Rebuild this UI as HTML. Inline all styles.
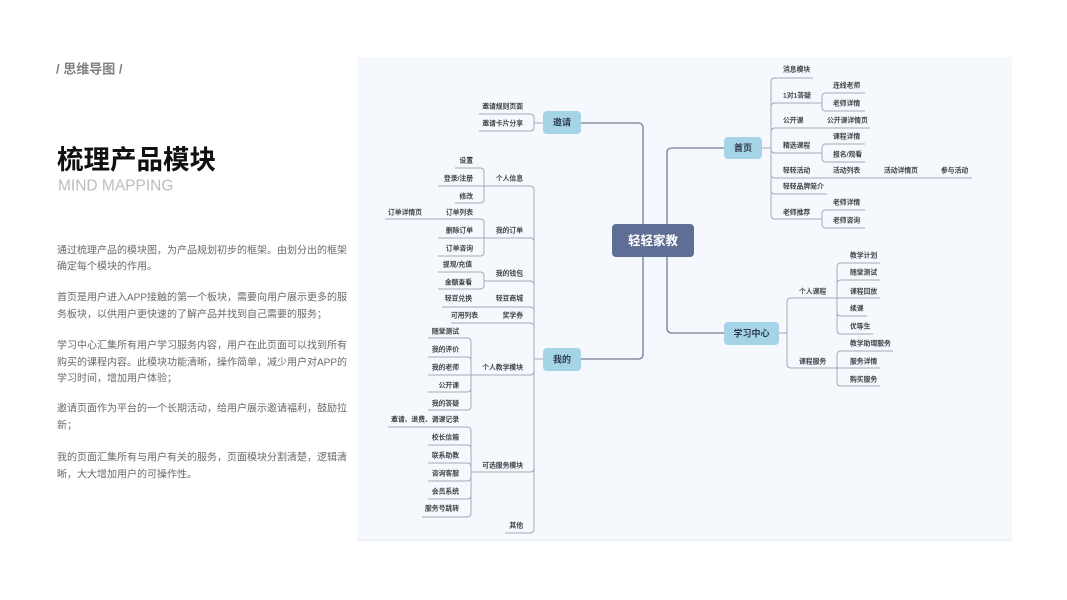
<!DOCTYPE html>
<html><head><meta charset="utf-8"><style>
html,body{margin:0;padding:0;background:#fff;}
svg{display:block;}
text{font-family:"Liberation Sans","Noto Sans CJK SC",sans-serif;}
.t{font-size:6.8px;fill:#2e3238;stroke:#2e3238;stroke-width:0.18;dominant-baseline:central;}
.e{text-anchor:end;}
.n{font-size:9px;font-weight:bold;fill:#2c3a4c;text-anchor:middle;dominant-baseline:central;}
.p{font-size:10px;fill:#6a6a6a;dominant-baseline:central;}
.m{fill:none;stroke:#8a93a7;stroke-width:1.6;}
.s{fill:none;stroke:#a3abb8;stroke-width:1;}
</style></head><body>
<svg width="1067" height="600" viewBox="0 0 1067 600" xmlns="http://www.w3.org/2000/svg">
<rect x="0" y="0" width="1067" height="600" fill="#fff"/>
<!-- left panel -->
<text x="56" y="69" style="font-size:13px;font-weight:bold;fill:#808080;dominant-baseline:central;">/ 思维导图 /</text>
<text x="57" y="160" style="font-size:26.5px;font-weight:bold;fill:#111;dominant-baseline:central;">梳理产品模块</text>
<text x="58" y="186" style="font-size:15.5px;fill:#bdbdbd;dominant-baseline:central;">MIND MAPPING</text>

<text class="p" x="57" y="251" textLength="290" lengthAdjust="spacing">通过梳理产品的模块图，为产品规划初步的框架。由划分出的框架</text>
<text class="p" x="57" y="267">确定每个模块的作用。</text>
<text class="p" x="57" y="298" textLength="290" lengthAdjust="spacing">首页是用户进入APP接触的第一个板块，需要向用户展示更多的服</text>
<text class="p" x="57" y="315">务板块，以供用户更快速的了解产品并找到自己需要的服务；</text>
<text class="p" x="57" y="346" textLength="290" lengthAdjust="spacing">学习中心汇集所有用户学习服务内容，用户在此页面可以找到所有</text>
<text class="p" x="57" y="363" textLength="290" lengthAdjust="spacing">购买的课程内容。此模块功能清晰，操作简单，减少用户对APP的</text>
<text class="p" x="57" y="379">学习时间，增加用户体验；</text>
<text class="p" x="57" y="409" textLength="290" lengthAdjust="spacing">邀请页面作为平台的一个长期活动，给用户展示邀请福利，鼓励拉</text>
<text class="p" x="57" y="426">新；</text>
<text class="p" x="57" y="458" textLength="290" lengthAdjust="spacing">我的页面汇集所有与用户有关的服务，页面模块分割清楚，逻辑清</text>
<text class="p" x="57" y="475">晰，大大增加用户的可操作性。</text>

<!-- diagram panel -->
<rect x="357" y="57" width="655" height="483" fill="#f5f8fc"/>
<line x1="357" y1="540.5" x2="1012" y2="540.5" stroke="#edf0f4" stroke-width="1.5"/>

<!-- main connectors -->
<path class="m" d="M643 224 V128 Q643 123 638 123 H581"/>
<path class="m" d="M643 257 V354 Q643 359 638 359 H581"/>
<path class="m" d="M667 224 V153 Q667 148 672 148 H724"/>
<path class="m" d="M667 257 V328 Q667 333 672 333 H724"/>

<!-- 首页 group -->
<path class="s" d="M762 148 H771"/>
<path class="s" d="M771 148 V82 Q771 78 775 78 H813"/>
<path class="s" d="M771 148 V107 Q771 103 775 103 H822"/>
<path class="s" d="M771 148 V132 Q771 128 775 128 H870"/>
<path class="s" d="M771 148 V149 Q771 153 775 153 H822"/>
<path class="s" d="M771 148 V174 Q771 178 775 178 H972"/>
<path class="s" d="M771 148 V190 Q771 194 775 194 H827"/>
<path class="s" d="M771 148 V215 Q771 219 775 219 H822"/>
<path class="s" d="M822 103 V97 Q822 93 826 93 H865"/>
<path class="s" d="M822 103 V107 Q822 111 826 111 H865"/>
<path class="s" d="M822 153 V148 Q822 144 826 144 H865"/>
<path class="s" d="M822 153 V158 Q822 162 826 162 H865"/>
<path class="s" d="M822 219 V214 Q822 210 826 210 H865"/>
<path class="s" d="M822 219 V224 Q822 228 826 228 H865"/>

<text class="t" x="783" y="70">消息模块</text>
<text class="t" x="783" y="96">1对1答疑</text>
<text class="t" x="833" y="86">连线老师</text>
<text class="t" x="833" y="104">老师详情</text>
<text class="t" x="783" y="121">公开课</text>
<text class="t" x="827" y="121">公开课详情页</text>
<text class="t" x="783" y="146">精选课程</text>
<text class="t" x="833" y="137">课程详情</text>
<text class="t" x="833" y="155">报名/观看</text>
<text class="t" x="783" y="171">轻轻活动</text>
<text class="t" x="833" y="171">活动列表</text>
<text class="t" x="884" y="171">活动详情页</text>
<text class="t" x="941" y="171">参与活动</text>
<text class="t" x="783" y="187">轻轻品牌简介</text>
<text class="t" x="783" y="213">老师推荐</text>
<text class="t" x="833" y="203">老师详情</text>
<text class="t" x="833" y="221">老师咨询</text>

<!-- 学习中心 group -->
<path class="s" d="M779 333 H787"/>
<path class="s" d="M787 333 V302 Q787 298 791 298 H837"/>
<path class="s" d="M787 333 V364 Q787 368 791 368 H837"/>
<path class="s" d="M837 298 V267 Q837 263 841 263 H880"/>
<path class="s" d="M837 298 V284 Q837 280 841 280 H880"/>
<path class="s" d="M837 298 H880"/>
<path class="s" d="M837 298 V312 Q837 316 841 316 H867"/>
<path class="s" d="M837 298 V330 Q837 334 841 334 H873"/>
<path class="s" d="M837 368 V355 Q837 351 841 351 H893"/>
<path class="s" d="M837 368 H880"/>
<path class="s" d="M837 368 V382 Q837 386 841 386 H880"/>

<text class="t" x="799" y="292">个人课程</text>
<text class="t" x="799" y="362">课程服务</text>
<text class="t" x="850" y="256">教学计划</text>
<text class="t" x="850" y="273">随堂测试</text>
<text class="t" x="850" y="292">课程回放</text>
<text class="t" x="850" y="309">续课</text>
<text class="t" x="850" y="327">优等生</text>
<text class="t" x="850" y="344">教学助理服务</text>
<text class="t" x="850" y="362">服务详情</text>
<text class="t" x="850" y="380">购买服务</text>

<!-- 邀请 group -->
<path class="s" d="M543 123 H534"/>
<path class="s" d="M534 123 V118 Q534 114 530 114 H479"/>
<path class="s" d="M534 123 V127 Q534 131 530 131 H479"/>
<text class="t e" x="523" y="107">邀请规则页面</text>
<text class="t e" x="523" y="124">邀请卡片分享</text>

<!-- 我的 group -->
<path class="s" d="M543 359 H534"/>
<path class="s" d="M534 359 V190 Q534 186 530 186 H484"/>
<path class="s" d="M534 359 V242 Q534 238 530 238 H484"/>
<path class="s" d="M534 359 V285 Q534 281 530 281 H484"/>
<path class="s" d="M534 359 V311 Q534 307 530 307 H442"/>
<path class="s" d="M534 359 V327 Q534 323 530 323 H451"/>
<path class="s" d="M534 359 V371 Q534 375 530 375 H471"/>
<path class="s" d="M534 359 V468 Q534 472 530 472 H471"/>
<path class="s" d="M534 359 V529 Q534 533 530 533 H505"/>

<path class="s" d="M484 186 V172 Q484 168 480 168 H455"/>
<path class="s" d="M484 186 H438"/>
<path class="s" d="M484 186 V199 Q484 203 480 203 H455"/>

<path class="s" d="M484 238 V223 Q484 219 480 219 H385"/>
<path class="s" d="M484 238 H438"/>
<path class="s" d="M484 238 V252 Q484 256 480 256 H438"/>

<path class="s" d="M484 281 V276 Q484 272 480 272 H438"/>
<path class="s" d="M484 281 V285 Q484 289 480 289 H438"/>

<path class="s" d="M471 375 V342 Q471 338 467 338 H428"/>
<path class="s" d="M471 375 V361 Q471 357 467 357 H428"/>
<path class="s" d="M471 375 H428"/>
<path class="s" d="M471 375 V388 Q471 392 467 392 H428"/>
<path class="s" d="M471 375 V406 Q471 410 467 410 H428"/>

<path class="s" d="M471 472 V431 Q471 427 467 427 H388"/>
<path class="s" d="M471 472 V449 Q471 445 467 445 H428"/>
<path class="s" d="M471 472 V467 Q471 463 467 463 H428"/>
<path class="s" d="M471 472 V477 Q471 481 467 481 H428"/>
<path class="s" d="M471 472 V495 Q471 499 467 499 H428"/>
<path class="s" d="M471 472 V513 Q471 517 467 517 H422"/>

<text class="t e" x="523" y="179">个人信息</text>
<text class="t e" x="473" y="161">设置</text>
<text class="t e" x="473" y="179">登录/注册</text>
<text class="t e" x="473" y="197">修改</text>
<text class="t e" x="523" y="231">我的订单</text>
<text class="t e" x="473" y="213">订单列表</text>
<text class="t e" x="422" y="213">订单详情页</text>
<text class="t e" x="473" y="231">删除订单</text>
<text class="t e" x="473" y="249">订单咨询</text>
<text class="t e" x="523" y="274">我的钱包</text>
<text class="t e" x="472" y="265">提现/充值</text>
<text class="t e" x="472" y="283">金额查看</text>
<text class="t e" x="523" y="299">轻豆商城</text>
<text class="t e" x="472" y="299">轻豆兑换</text>
<text class="t e" x="523" y="316">奖学券</text>
<text class="t e" x="478" y="316">可用列表</text>
<text class="t e" x="523" y="368">个人教学模块</text>
<text class="t e" x="459" y="332">随堂测试</text>
<text class="t e" x="459" y="350">我的评价</text>
<text class="t e" x="459" y="368">我的老师</text>
<text class="t e" x="459" y="386">公开课</text>
<text class="t e" x="459" y="404">我的答疑</text>
<text class="t e" x="523" y="466">可选服务模块</text>
<text class="t e" x="459" y="420">邀请、退费、调课记录</text>
<text class="t e" x="459" y="438">校长信箱</text>
<text class="t e" x="459" y="456">联系助教</text>
<text class="t e" x="459" y="474">咨询客服</text>
<text class="t e" x="459" y="492">会员系统</text>
<text class="t e" x="459" y="509">服务号跳转</text>
<text class="t e" x="523" y="526">其他</text>

<!-- nodes -->
<rect x="612" y="224" width="82" height="33" rx="4" fill="#5e6e95"/>
<text x="653" y="241" style="font-size:12.5px;font-weight:bold;fill:#fff;text-anchor:middle;dominant-baseline:central;">轻轻家教</text>

<rect x="543" y="111" width="38" height="23" rx="4" fill="#a6d4e7"/>
<text class="n" x="562" y="122.5">邀请</text>
<rect x="543" y="348" width="38" height="23" rx="4" fill="#a6d4e7"/>
<text class="n" x="562" y="359.5">我的</text>
<rect x="724" y="137" width="38" height="22" rx="4" fill="#a6d4e7"/>
<text class="n" x="743" y="148">首页</text>
<rect x="724" y="322" width="55" height="23" rx="4" fill="#a6d4e7"/>
<text class="n" x="751.5" y="333.5">学习中心</text>
</svg>
</body></html>
